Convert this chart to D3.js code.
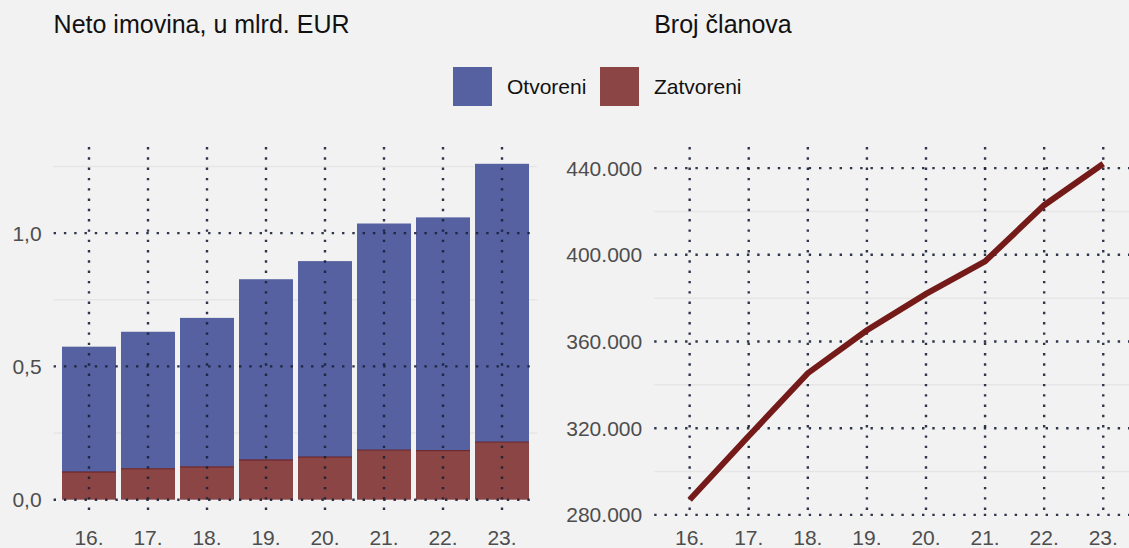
<!DOCTYPE html>
<html>
<head>
<meta charset="utf-8">
<script src="https://cdn.jsdelivr.net/npm/d3@7"></script>
<style>
  body { margin: 0; background: #f2f2f2; }
  svg { display: block; font-family: "Liberation Sans", Arial, sans-serif; }
</style>
</head>
<body>
<div id="chart"></div>
<script>
// data
var years = ["16.", "17.", "18.", "19.", "20.", "21.", "22.", "23."];
var otvoreni = [0.470, 0.514, 0.559, 0.678, 0.735, 0.850, 0.875, 1.044];
var zatvoreni = [0.104, 0.116, 0.123, 0.149, 0.160, 0.186, 0.184, 0.216];
var clanovi = [287000, 316400, 345400, 365200, 382000, 397000, 422900, 442000];
var leftTicks = [0, 0.5, 1.0];
var leftMinor = [0.25, 0.75, 1.25];
var rightTicks = [280000, 320000, 360000, 400000, 440000];
var rightMinor = [300000, 340000, 380000, 420000];

var W = 1129, H = 548;
var colBlue = "#5561a0", colRed = "#8b4544", colLine = "#741b1a";
var gridCol = "#1a2238", minorCol = "#e6e6e6";
var dotW = 2.4, dotDash = "2.4 7.9";

var svg = d3.select("#chart").append("svg")
    .attr("width", W).attr("height", H);

svg.append("rect").attr("width", W).attr("height", H).attr("fill", "#f2f2f2");

var yTop = 147, yBot = 516.5;

// ---------- left panel: stacked bars ----------
var L = { x0: 53.6, x1: 537.4 };
var totals = otvoreni.map(function (d, i) { return d + zatvoreni[i]; });
var lmax = d3.max(totals);

var xL = d3.scaleBand().domain(years).range([L.x0, L.x1])
    .paddingInner(0.085).paddingOuter(0.1425);
var yL = d3.scaleLinear().domain([-0.05 * lmax, lmax * 1.05]).range([yBot, yTop]);

var gL = svg.append("g");

// minor grid
gL.selectAll(".minor").data(leftMinor).enter().append("line")
    .attr("x1", L.x0).attr("x2", L.x1)
    .attr("y1", function (d) { return yL(d); })
    .attr("y2", function (d) { return yL(d); })
    .attr("stroke", minorCol).attr("stroke-width", 1.5);

// bars
gL.selectAll(".zat").data(years).enter().append("rect")
    .attr("x", function (d) { return xL(d); })
    .attr("width", xL.bandwidth())
    .attr("y", function (d, i) { return yL(zatvoreni[i]); })
    .attr("height", function (d, i) { return yL(0) - yL(zatvoreni[i]); })
    .attr("fill", colRed);
gL.selectAll(".otv").data(years).enter().append("rect")
    .attr("x", function (d) { return xL(d); })
    .attr("width", xL.bandwidth())
    .attr("y", function (d, i) { return yL(totals[i]); })
    .attr("height", function (d, i) { return yL(zatvoreni[i]) - yL(totals[i]); })
    .attr("fill", colBlue);
gL.selectAll(".edge").data(years).enter().append("line")
    .attr("x1", function (d) { return xL(d); })
    .attr("x2", function (d) { return xL(d) + xL.bandwidth(); })
    .attr("y1", function (d, i) { return yL(zatvoreni[i]); })
    .attr("y2", function (d, i) { return yL(zatvoreni[i]); })
    .attr("stroke", "#6a1d1d").attr("stroke-width", 1);

// dotted major grid (drawn over the bars)
gL.selectAll(".vg").data(years).enter().append("line")
    .attr("x1", function (d) { return xL(d) + xL.bandwidth() / 2; })
    .attr("x2", function (d) { return xL(d) + xL.bandwidth() / 2; })
    .attr("y1", yTop).attr("y2", yBot)
    .attr("stroke", gridCol).attr("stroke-width", dotW)
    .attr("stroke-dasharray", dotDash).attr("opacity", 0.9);
gL.selectAll(".hg").data(leftTicks).enter().append("line")
    .attr("x1", L.x0).attr("x2", L.x1)
    .attr("y1", function (d) { return yL(d); })
    .attr("y2", function (d) { return yL(d); })
    .attr("stroke", gridCol).attr("stroke-width", dotW)
    .attr("stroke-dasharray", dotDash).attr("opacity", 0.9);

// axes labels
gL.selectAll(".yl").data(leftTicks).enter().append("text")
    .attr("x", L.x0 - 12).attr("y", function (d) { return yL(d); })
    .attr("dy", "0.36em").attr("text-anchor", "end")
    .attr("font-size", 21).attr("fill", "#4d4d4d")
    .text(function (d) { return d3.format(".1f")(d).replace(".", ","); });
gL.selectAll(".xl").data(years).enter().append("text")
    .attr("x", function (d) { return xL(d) + xL.bandwidth() / 2; })
    .attr("y", 545).attr("text-anchor", "middle")
    .attr("font-size", 21).attr("fill", "#4d4d4d")
    .text(function (d) { return d; });

svg.append("text").attr("x", L.x0).attr("y", 33)
    .attr("font-size", 25).attr("fill", "#111")
    .text("Neto imovina, u mlrd. EUR");

// ---------- right panel: line ----------
var R = { x0: 654.2, x1: 1138.7 };
var ext = d3.extent(clanovi);
var pad = (ext[1] - ext[0]) * 0.05;

var xR = d3.scalePoint().domain(years).range([R.x0, R.x1]).padding(0.6);
var yR = d3.scaleLinear().domain([ext[0] - pad, ext[1] + pad]).range([yBot, yTop]);

var gR = svg.append("g");

gR.selectAll(".minor").data(rightMinor).enter().append("line")
    .attr("x1", R.x0).attr("x2", R.x1)
    .attr("y1", function (d) { return yR(d); })
    .attr("y2", function (d) { return yR(d); })
    .attr("stroke", minorCol).attr("stroke-width", 1.5);

gR.selectAll(".vg").data(years).enter().append("line")
    .attr("x1", function (d) { return xR(d); })
    .attr("x2", function (d) { return xR(d); })
    .attr("y1", yTop).attr("y2", yBot)
    .attr("stroke", gridCol).attr("stroke-width", dotW)
    .attr("stroke-dasharray", dotDash).attr("opacity", 0.9);
gR.selectAll(".hg").data(rightTicks).enter().append("line")
    .attr("x1", R.x0).attr("x2", R.x1)
    .attr("y1", function (d) { return yR(d); })
    .attr("y2", function (d) { return yR(d); })
    .attr("stroke", gridCol).attr("stroke-width", dotW)
    .attr("stroke-dasharray", dotDash).attr("opacity", 0.9);

var line = d3.line()
    .x(function (d, i) { return xR(years[i]); })
    .y(function (d) { return yR(d); });
gR.append("path").datum(clanovi)
    .attr("d", line)
    .attr("fill", "none").attr("stroke", colLine)
    .attr("stroke-width", 6);

gR.selectAll(".yl").data(rightTicks).enter().append("text")
    .attr("x", R.x0 - 12).attr("y", function (d) { return yR(d); })
    .attr("dy", "0.36em").attr("text-anchor", "end")
    .attr("font-size", 21).attr("fill", "#4d4d4d")
    .text(function (d) { return d3.format(",")(d).replace(/,/g, "."); });
gR.selectAll(".xl").data(years).enter().append("text")
    .attr("x", function (d) { return xR(d); })
    .attr("y", 545).attr("text-anchor", "middle")
    .attr("font-size", 21).attr("fill", "#4d4d4d")
    .text(function (d) { return d; });

svg.append("text").attr("x", R.x0).attr("y", 33)
    .attr("font-size", 25).attr("fill", "#111")
    .text("Broj članova");

// ---------- legend ----------
var legend = [
    { name: "Otvoreni", color: colBlue, x: 453 },
    { name: "Zatvoreni", color: colRed, x: 600 }
];
var lg = svg.selectAll(".lg").data(legend).enter().append("g");
lg.append("rect")
    .attr("x", function (d) { return d.x; }).attr("y", 67)
    .attr("width", 39).attr("height", 39)
    .attr("fill", function (d) { return d.color; });
lg.append("text")
    .attr("x", function (d) { return d.x + 54; }).attr("y", 86.5)
    .attr("dy", "0.36em").attr("font-size", 21).attr("fill", "#111")
    .text(function (d) { return d.name; });
</script>
</body>
</html>
